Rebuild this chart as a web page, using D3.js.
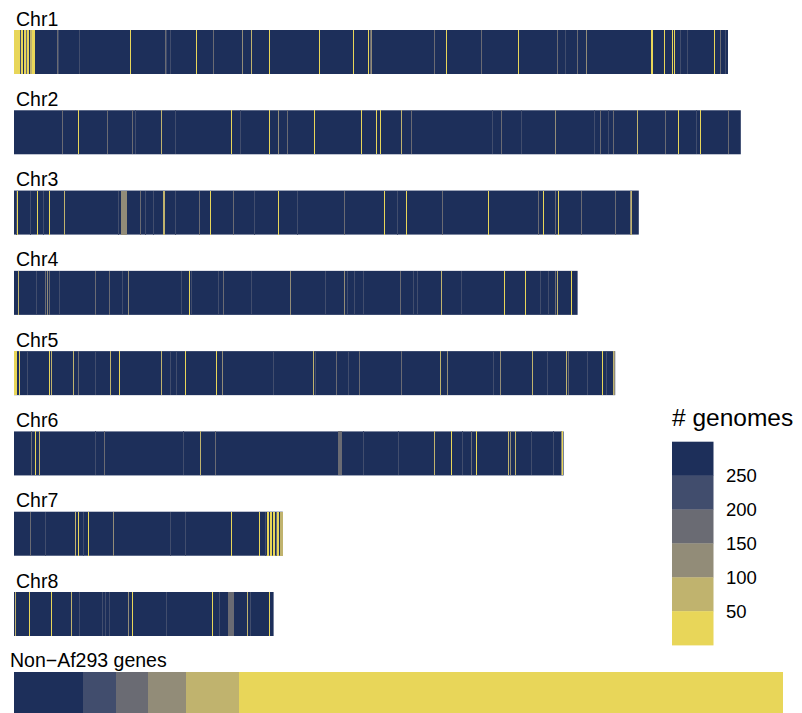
<!DOCTYPE html>
<html>
<head>
<meta charset="utf-8">
<script src="https://cdn.jsdelivr.net/npm/d3@7/dist/d3.min.js"></script>
<style>
  html, body { margin: 0; padding: 0; background: #fff; }
  svg { display: block; }
  text { font-family: "Liberation Sans", Arial, Helvetica, sans-serif; fill: #000; }
</style>
</head>
<body>
<div id="chart"></div>
<script>
// Chromosome names and lengths (gene index along each chromosome)
const chromosomes = ["Chr1", "Chr2", "Chr3", "Chr4", "Chr5", "Chr6", "Chr7", "Chr8"];
const chromLengths = [1785, 1817, 1562, 1409, 1503, 1374, 672, 649];

// Genes not shared by all genomes: [start gene, run length, # genomes]
const chr1Genes = [[0,4,20],[5,4,20],[11,4,20],[16,1,225],[17,5,20],[25,5,20],[31,1,175],[32,5,20],[39,1,225],[40,5,80],[45,7,20],
  [107,2,175],[111,2,225],[163,2,225],[291,2,20],[377,2,175],[381,2,225],[390,2,225],[456,2,20],[498,2,175],[571,2,130],[593,2,80],
  [638,2,20],[762,2,20],[848,2,20],[886,2,20],[890,2,175],[893,2,130],[1051,2,175],[1081,2,20],[1168,2,175],[1261,2,20],[1358,2,175],
  [1378,2,225],[1408,2,175],[1431,2,130],[1592,4,20],[1626,2,20],[1644,2,20],[1651,2,20],[1666,2,225],[1683,2,225],[1751,2,20],
  [1766,2,175],[1778,2,225]];
const chr2Genes = [[121,2,175],[161,2,20],[232,2,175],[294,2,175],[303,2,225],[368,2,80],[403,2,225],[543,2,20],[566,2,225],[638,2,20],
  [661,2,130],[683,2,175],[751,2,20],[868,2,20],[906,2,20],[916,2,20],[968,2,80],[993,2,175],[1196,2,225],[1218,2,175],[1268,2,225],
  [1353,2,130],[1451,2,225],[1466,2,175],[1486,2,225],[1498,2,175],[1558,2,80],[1628,2,175],[1661,2,20],[1706,2,225],[1716,2,20],
  [1786,2,175]];
const chr3Genes = [[5,2,225],[8,2,20],[39,2,225],[58,2,20],[72,2,225],[88,2,20],[126,2,80],[261,2,225],[267,16,130],[316,2,175],
  [328,2,225],[348,2,225],[372,4,80],[403,2,225],[463,2,175],[491,2,20],[548,2,175],[599,2,225],[661,2,20],[708,2,225],[826,2,175],
  [926,2,20],[958,2,225],[981,2,20],[1071,2,175],[1186,2,20],[1311,2,175],[1323,2,20],[1353,2,175],[1361,2,20],[1418,2,175],
  [1503,2,175],[1541,2,130],[1543,3,80]];
const chr4Genes = [[11,2,80],[56,2,225],[78,2,175],[83,2,130],[88,2,175],[113,2,225],[202,2,175],[238,2,175],[271,2,225],[286,2,130],
  [418,2,225],[438,2,20],[443,2,225],[511,2,225],[523,2,175],[593,2,225],[691,2,130],[778,2,225],[826,2,130],[833,2,225],[851,2,225],
  [873,2,225],[966,2,175],[998,2,225],[1008,2,225],[1068,2,80],[1118,2,225],[1226,2,20],[1278,2,20],[1316,2,225],[1336,2,225],
  [1353,2,175],[1357,2,80],[1393,2,20]];
const chr5Genes = [[0,7,20],[13,2,20],[33,2,225],[88,2,20],[93,2,80],[148,2,80],[161,2,175],[203,2,225],[241,2,80],[263,2,20],
  [368,2,80],[391,2,225],[406,2,225],[428,2,20],[506,2,20],[521,2,130],[648,2,225],[748,2,80],[753,2,225],[806,2,175],[836,2,225],
  [863,2,175],[968,2,175],[1066,2,80],[1083,2,130],[1198,2,225],[1216,2,130],[1296,2,80],[1333,2,225],[1381,2,80],[1386,2,175],
  [1433,2,225],[1471,2,20],[1481,2,225],[1497,3,80],[1500,3,130]];
const chr6Genes = [[43,2,175],[53,2,20],[63,2,80],[202,2,225],[226,2,175],[423,2,225],[466,2,80],[503,2,175],[811,10,175],[873,2,225],
  [961,2,225],[1051,2,80],[1093,2,20],[1121,2,225],[1143,2,175],[1156,3,20],[1236,2,80],[1241,2,130],[1253,2,80],[1293,2,225],
  [1348,2,225],[1368,2,130],[1371,3,20]];
const chr7Genes = [[41,2,175],[78,2,225],[153,2,80],[160,2,20],[173,2,225],[186,2,20],[248,2,130],[391,2,225],[428,2,225],[543,2,20],
  [613,2,20],[628,2,225],[633,4,20],[640,4,20],[648,5,20],[655,2,175],[658,5,20],[664,8,80]];
const chr8Genes = [[2,2,80],[38,2,20],[93,2,20],[143,2,80],[163,2,225],[221,2,225],[228,2,225],[238,2,225],[286,2,130],[296,2,20],
  [381,2,225],[496,2,20],[513,2,225],[535,14,175],[583,2,80],[591,2,225],[638,2,20]];
const chromGenes = [chr1Genes, chr2Genes, chr3Genes, chr4Genes, chr5Genes, chr6Genes, chr7Genes, chr8Genes];

// Genes present in every genome
const coreGenomes = 260;

// Genes absent from Af293, counted by number of genomes carrying them
const nonAfGenomes = [260, 225, 175, 130, 80, 20];
const nonAfCounts = [172, 84, 79, 96, 132, 1360];

// Binned colour scale for "# genomes"
const binBreaks = [50, 100, 150, 200, 250];
const binColors = ["#e8d659", "#c0b36e", "#928c78", "#6a6b73", "#414d6d", "#1d2f5a"];
const legendLabels = ["250", "200", "150", "100", "50"];

const W = 802, H = 713;
const svg = d3.select("#chart").append("svg").attr("width", W).attr("height", H);

const color = d3.scaleThreshold().domain(binBreaks).range(binColors);
const x = d3.scaleLinear().domain([0, 1925]).range([14, 784]);
const y = d3.scaleLinear().domain([0, chromosomes.length - 1]).range([30, 592]);
const barH = 44;
const unit = x(1) - x(0);

// Chromosome tracks
const tracks = svg.append("g").selectAll("g.track")
  .data(chromosomes.map((name, i) => ({ name, len: chromLengths[i], genes: chromGenes[i], i })))
  .join("g").attr("class", "track")
  .attr("transform", d => `translate(0,${y(d.i)})`);

tracks.append("text")
  .attr("x", 16).attr("y", -4.5)
  .style("font-size", "19.5px")
  .text(d => d.name);

tracks.append("rect")
  .attr("x", x(0)).attr("y", 0)
  .attr("width", d => x(d.len) - x(0)).attr("height", barH)
  .attr("fill", color(coreGenomes));

tracks.selectAll("rect.gene")
  .data(d => d.genes)
  .join("rect").attr("class", "gene")
  .attr("x", d => Math.round(x(d[0])))
  .attr("y", 0)
  .attr("width", d => Math.max(1, Math.round(d[1] * unit)))
  .attr("height", barH)
  .attr("fill", d => color(d[2]))
  .attr("shape-rendering", "crispEdges");

// Non-Af293 genes stacked by genome count
let acc = 0;
const segs = nonAfCounts.map((c, i) => { const s = { start: acc, count: c, n: nonAfGenomes[i] }; acc += c; return s; });
const nonAf = svg.append("g").attr("transform", "translate(0,672)");
nonAf.append("text").attr("x", 10).attr("y", -5.3)
  .style("font-size", "19.5px").text("Non\u2212Af293 genes");
nonAf.selectAll("rect").data(segs).join("rect")
  .attr("x", d => x(d.start)).attr("y", 0)
  .attr("width", d => x(d.start + d.count) - x(d.start))
  .attr("height", barH)
  .attr("fill", d => color(d.n))
  .attr("shape-rendering", "crispEdges");

// Legend
const legend = svg.append("g").attr("transform", "translate(672,0)");
legend.append("text").attr("x", 0).attr("y", 426)
  .style("font-size", "24.5px").text("# genomes");
const boxH = 33.9, legTop = 441.7;
const legendColors = binColors.slice().reverse();
legend.selectAll("rect").data(legendColors).join("rect")
  .attr("x", 0).attr("y", (d, i) => legTop + i * boxH)
  .attr("width", 41.5).attr("height", boxH + 0.3)
  .attr("fill", d => d);
legend.selectAll("text.lab").data(legendLabels).join("text").attr("class", "lab")
  .attr("x", 54).attr("y", (d, i) => legTop + (i + 1) * boxH + 6.6)
  .style("font-size", "18.5px").text(d => d);
</script>
</body>
</html>
